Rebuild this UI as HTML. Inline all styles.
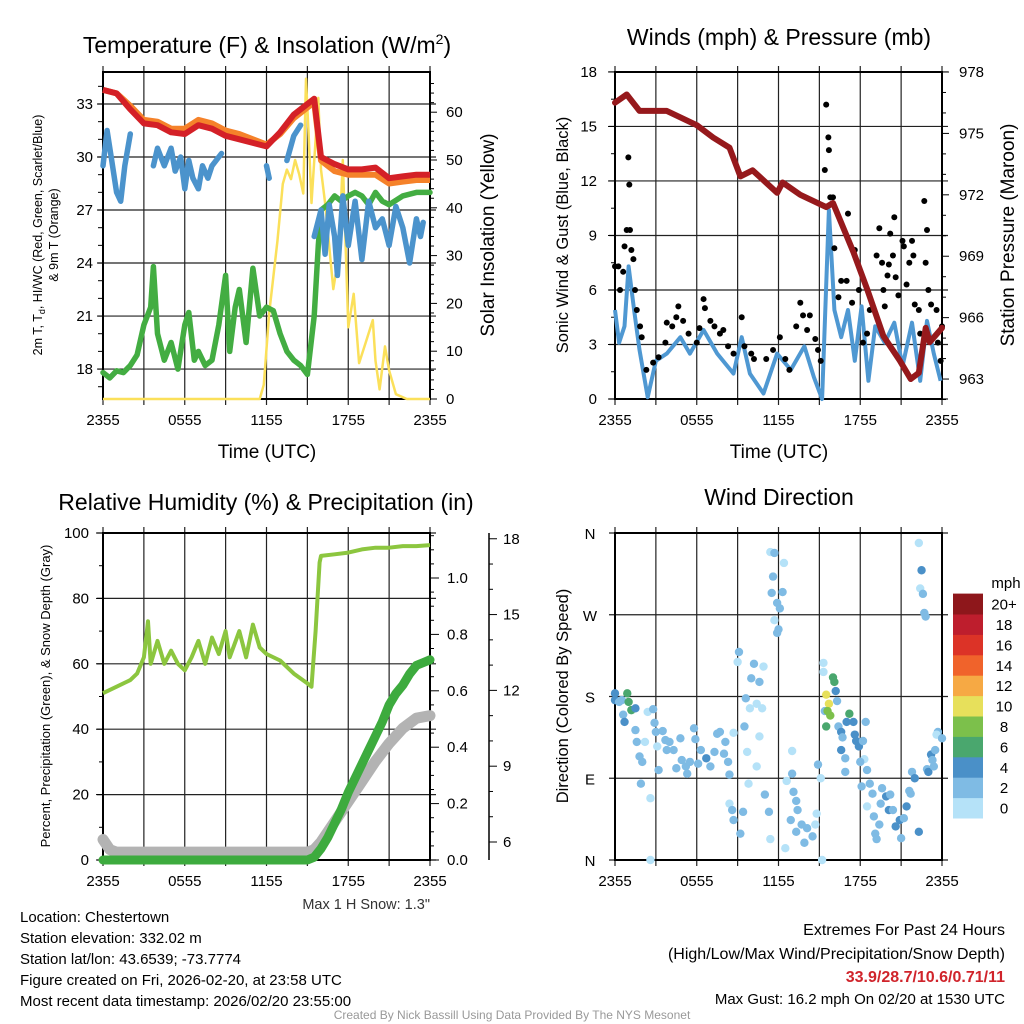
<!DOCTYPE html>
<html><head><meta charset="utf-8">
<style>
html,body{margin:0;padding:0;background:#fff;}
svg{display:block;font-family:"Liberation Sans",sans-serif;}
</style></head>
<body>
<svg id="chart" width="1024" height="1024" viewBox="0 0 1024 1024" xmlns="http://www.w3.org/2000/svg">
<g id="layer"></g>
</svg>
<script>
// ---------- DATA ----------
const tickHours = [0,6,12,18,24];
const tickLabels = ["2355","0555","1155","1755","2355"];

const tempTimes = [0,1,2,3,4,5,6,7,8,9,10,11,12,13,14,15,15.5,16,17,18,19,20,21,22,23,24];
const tempRed = [33.8,33.6,32.7,31.9,31.8,31.4,31.3,31.8,31.6,31.2,31.0,30.8,30.6,31.4,32.4,33.0,33.3,30.0,29.6,29.3,29.3,29.4,28.8,28.9,29.0,29.0];
const temp9mOrange = [33.8,33.6,32.9,32.1,32.0,31.6,31.6,32.1,31.9,31.5,31.3,31.0,30.7,31.3,32.2,32.8,33.1,29.8,29.2,29.0,29.0,29.0,28.5,28.6,28.7,28.7];
const dewTimes = [0,0.5,1,1.5,2,2.5,3,3.5,3.7,4,4.5,5,5.5,6,6.3,6.7,7,7.5,8,8.5,9,9.3,9.7,10,10.5,11,11.5,12,12.5,13,13.5,14,14.5,15,15.5,15.8,16,16.5,17,17.5,18,18.5,19,19.5,20,20.5,21,22,23,24];
const dewGreen = [17.8,17.5,17.9,17.8,18.2,18.8,20.5,21.5,23.8,20.0,18.5,19.5,18.0,20.5,21.2,18.5,19.0,18.2,18.5,20.5,23.3,19.0,21.5,22.5,19.5,23.7,21.0,21.5,21.3,20.0,19.0,18.5,18.2,17.7,21.0,25.0,27.0,27.3,27.8,27.5,27.8,28.0,27.8,27.3,28.0,27.5,27.3,27.8,28.0,28.0];
const wcTimes = [0,0.3,0.6,1,1.3,1.6,2,null,3.7,4,4.5,5,5.3,5.7,6,6.3,6.6,7,7.3,7.7,8,8.7,null,12,12.2,null,13.5,14,14.5,null,15.5,16,16.3,16.6,17,17.2,17.6,18,18.5,19,19.5,20,20.5,21,21.5,22,22.5,23,23.3,23.5];
const wcBlue = [29.5,31.5,30.0,28.0,27.5,29.5,31.3,null,29.5,30.5,29.5,30.5,29.2,30.0,28.2,29.8,28.8,28.2,29.5,28.8,29.5,30.2,null,29.5,28.8,null,29.8,31.2,31.8,null,25.5,27.0,24.5,27.3,25.5,23.3,27.8,25.0,27.5,24.2,27.5,26.0,26.5,25.0,27.2,26.0,24.0,26.5,25.5,26.3];
const solarTimes = [0,11.5,11.8,12.2,12.8,13.2,13.5,13.8,14.1,14.4,14.7,14.9,15.1,15.3,15.8,16.0,16.3,16.9,17.3,17.6,18.0,18.4,18.8,19.3,19.8,20.0,20.3,20.7,21.0,21.5,22.3,24];
const solarYellow = [0,0,3,18,33,45,48,46,50,47,43,67,55,41,63,48,41,23,30,50,15,22,7.5,12,16.5,8,2,11,6,1,0,0];

const presTimes = [0,0.86,1.8,3.8,6.0,7.2,8.4,9.2,10.1,11.9,12.3,13.6,15.5,16.0,17.5,18.5,19.7,20.9,21.7,22.3,22.8,23.1,24];
const pressure = [976.5,976.9,976.1,976.1,975.4,974.8,974.3,972.9,973.2,972.1,972.6,972.0,971.4,971.6,969.2,967.4,965.1,963.9,963.0,963.3,965.5,964.8,965.5];
const windTimes = [0,0.3,0.7,1.0,1.4,1.8,2.4,3.0,3.8,4.8,5.5,6.5,7.5,8.7,9.3,9.9,10.9,11.9,12.9,13.9,14.6,15.2,15.7,16.1,16.6,17.1,17.6,18.1,18.6,19.1,19.8,20.5,21.1,21.8,22.4,22.9,23.4,23.9];
const windSpeed = [4.9,3.1,4.0,7.3,4.9,2.7,0.1,2.1,2.5,3.4,2.5,3.8,2.5,1.4,3.4,1.4,0.3,2.5,1.6,2.9,1.2,0.0,10.4,4.9,3.4,4.9,2.1,5.1,1.0,4.0,3.1,4.2,1.8,4.2,1.0,4.3,2.5,1.0];
const gustTimes = [0.0,0.25,0.37,0.6,0.7,0.86,0.98,1.05,1.1,1.2,1.35,1.47,1.6,1.84,1.96,2.3,2.8,3.2,3.7,3.8,4.2,4.5,4.65,5.0,5.4,6.0,6.2,6.5,6.6,7.0,7.3,7.7,7.95,8.3,8.7,9.3,9.5,10.0,10.2,11.1,11.6,12.1,12.5,12.8,13.3,13.6,13.8,14.1,14.3,14.7,14.9,15.1,15.4,15.5,15.66,15.7,15.8,16.0,16.1,16.4,16.6,17.0,17.1,17.4,17.6,17.9,18.2,18.5,18.7,19.2,19.4,19.6,19.7,19.8,20.0,20.1,20.2,20.4,20.5,20.6,20.8,21.1,21.2,21.4,21.6,21.8,21.9,22.0,22.3,22.4,22.7,22.8,22.9,23.0,23.2,23.6,23.7,23.9,24.0];
const gustSpeed = [7.3,7.3,6.0,7.0,8.4,9.3,13.3,11.8,9.3,8.2,7.7,6.0,4.9,4.0,3.4,1.6,2.0,2.3,3.1,4.2,4.0,4.5,5.1,4.3,3.6,3.1,3.9,5.5,5.0,4.3,4.0,3.6,3.8,2.9,2.5,4.5,2.9,2.5,2.2,2.2,2.7,3.4,2.2,1.6,4.0,5.3,4.6,3.8,4.6,3.3,2.7,2.1,12.6,16.2,14.4,13.7,11.1,11.1,8.3,5.6,6.5,6.5,10.2,5.3,8.2,6.0,3.1,3.6,4.9,7.9,9.4,7.5,6.0,5.1,6.8,7.4,9.1,7.9,10.0,6.7,5.7,8.7,8.4,6.3,7.5,8.7,7.9,5.2,4.9,3.6,10.9,7.5,9.3,6.0,5.2,4.9,3.1,2.1,4.0];

const rhTimes = [0,1,2,2.5,3,3.3,3.5,4,4.5,5,5.5,6,6.5,7,7.5,8,8.5,9,9.3,10,10.5,11,11.5,12,13,14,15,15.3,15.6,15.9,16,17,18,19,20,21,22,23,24];
const rhValues = [51,53,55,57,62,73,60,67,60,64,60,58,62,67,60,68,63,70,62,70,62,72,65,63,61,57,54,53,70,91,93,93.5,94,95,95.5,95.5,96,96,96.3];
const precipTimes = [0,15,15.5,16,16.5,17,17.5,18,18.5,19,19.5,20,20.5,21,21.5,22,22.5,23,23.5,24];
const precipValues = [0,0,0.01,0.04,0.08,0.13,0.18,0.24,0.29,0.34,0.39,0.44,0.49,0.55,0.59,0.62,0.66,0.69,0.70,0.71];
const snowTimes = [0,0.5,1,15,15.5,16,17,18,19,20,21,22,23,24];
const snowValues = [6.1,5.7,5.6,5.6,5.7,6.0,6.8,7.6,8.4,9.2,9.9,10.5,10.9,11.0];

const dirTimes = [0,0,0.3,0.5,0.9,1.0,1.2,1.5,0.6,0.7,1.5,1.6,1.8,2.0,2.2,2.4,2.6,2.6,1.9,2.8,2.9,3.0,3.1,3.2,3.5,3.7,3.8,4.0,4.3,4.5,4.8,4.9,5.2,5.3,5.5,5.8,5.9,6.1,6.3,6.7,7.0,7.3,7.5,7.7,8.0,8.1,8.3,8.4,8.7,8.4,8.6,8.7,9.2,9.4,9.0,9.1,9.5,9.6,9.7,9.8,9.9,10.0,10.2,10.4,10.6,10.8,10.9,10.4,10.6,11.0,11.3,11.4,11.4,11.7,11.6,11.5,11.9,12.1,11.7,11.9,12.0,12.3,12.4,12.5,12.6,13.0,13.0,13.1,13.3,12.9,13.4,13.3,13.7,14.1,13.9,14.5,14.7,14.8,14.9,15.1,15.2,15.3,15.3,15.4,15.5,15.7,15.6,15.8,15.5,16.0,16.1,16.2,16.3,17.2,17.0,17.5,16.4,16.6,16.7,16.6,16.9,16.9,17.6,17.7,17.9,18.2,18.4,18.3,18.0,18.5,18.7,18.1,18.9,18.5,19.0,19.4,19.1,19.2,19.6,19.5,19.9,20.2,20.1,20.4,20.6,21.0,20.9,21.2,21.6,21.7,21.4,21.8,22.0,22.3,22.3,22.5,22.4,22.6,22.7,22.8,22.9,23.0,23.2,23.3,23.4,23.5,23.7,23.6,24.0];
const dirValues = [183.5,176,174,176,183.5,174,165,167,160,152,143,130,114,108,130,163,0,68,84,166,151,141,125,99,142,132,121,130,121,101,134,110,103,95,108,145,133,106,121,112,103,119,139,141,117,130,108,94,140,62,55,44,29,53,218,229,147,178,119,84,167,200,216,172,196,167,213,103,136,72,53,23,339,338,312,294,283,277,264,250,254,295,327,13,87,120,95,75,65,44,55,31,39,35,19,26,39,51,105,90,0,217,207,164,182,172,164,159,147,201,196,186,175,161,152,152,147,141,135,121,112,97,138,131,125,131,152,111,108,99,84,81,73,59,48,39,29,23,79,62,70,72,55,55,37,24,44,46,76,73,59,97,90,31,349,319,299,293,272,268,100,97,116,110,103,121,141,138,134];
const dirSpeed = [4,4,3,3,6,6,6,4,3,4,3,3,3,3,1,1,1,1,3,3,3,3,1,3,3,3,2,3,3,3,3,3,3,3,2,3,3,3,3,4,3,3,3,3,3,3,3,3,1,1,3,3,3,3,1,3,3,2,1,1,1,3,3,1,3,1,1,1,1,3,3,1,1,3,3,3,3,3,1,3,3,3,1,1,1,1,3,3,3,3,3,3,3,3,3,3,1,1,3,1,1,1,1,3,10,10,9,9,6,6,6,4,3,6,4,4,3,4,3,4,3,3,4,4,4,3,3,1,3,3,3,3,3,1,3,3,3,3,3,3,4,3,4,3,4,3,4,3,3,3,4,3,4,4,1,4,1,3,3,3,3,4,4,3,3,3,3,1,3,3];

const legendLabels = ["0","2","4","6","8","10","12","14","16","18","20+"];
const legendColors = ["#b5e2f8","#7fbbe4","#4a90c8","#4aa76e","#7cc04b","#e7e05b","#f6a944","#f0632b","#dc3327","#be1e2d","#8e171b"];

// ---------- HELPERS ----------
const NS = "http://www.w3.org/2000/svg";
const root = document.getElementById("layer");
function mk(tag, attrs, parent){
  const el = document.createElementNS(NS, tag);
  for (const k in attrs) el.setAttribute(k, attrs[k]);
  (parent||root).appendChild(el);
  return el;
}
function txt(s, x, y, size, anchor, extra){
  const t = mk("text", Object.assign({x:x, y:y, "font-size":size, "text-anchor":anchor||"middle", fill:"#000"}, extra||{}));
  t.textContent = s;
  return t;
}
function vtxt(s, x, y, size){
  const t = mk("text", {x:0, y:0, "font-size":size, "text-anchor":"middle", transform:"translate("+x+","+y+") rotate(-90)", fill:"#000"});
  t.textContent = s;
  return t;
}
function linePath(times, vals, sx, sy){
  let d = "", pen = false;
  for (let i=0;i<times.length;i++){
    if (times[i]===null || vals[i]===null){ pen=false; continue; }
    d += (pen?"L":"M") + sx(times[i]).toFixed(1) + "," + sy(vals[i]).toFixed(1);
    pen = true;
  }
  return d;
}
function speedColor(s){ let b = Math.min(10, Math.floor(s/2)); return legendColors[b]; }

const P = [{x0:103,y0:72},{x0:615,y0:72},{x0:103,y0:533},{x0:615,y0:533}];
const W = 327, H = 327;

function frame(p, yLines, name){
  const g = mk("g", {});
  
  
  for (let h=0; h<=24; h+=3){
    const x = p.x0 + h/24*W;
    mk("line",{x1:x,y1:p.y0-6,x2:x,y2:p.y0+H+6,stroke:"#222","stroke-width":1.2},g);
  }
  yLines.forEach(y=>mk("line",{x1:p.x0-6,y1:y,x2:p.x0+W+6,y2:y,stroke:"#222","stroke-width":1.2},g));
  mk("rect",{x:p.x0,y:p.y0,width:W,height:H,fill:"none",stroke:"#000","stroke-width":2},g);
  tickHours.forEach((h,i)=>{
    const t = txt(tickLabels[i], p.x0 + h/24*W, p.y0+H+26, 15);
    
    
  });
  return g;
}

// ---------- PANEL 1 ----------
{
  const p = P[0];
  const sx = h => p.x0 + h/24*W;
  const sy = v => 104 + (33 - v)*17.67;
  const ss = v => 399 - v*4.78;
  const ylines = [18,21,24,27,30,33].map(sy);
  frame(p, ylines, "temperature-plot-frame");
  for (let v=17; v<=34; v++){ mk("line",{x1:p.x0-5,y1:sy(v),x2:p.x0,y2:sy(v),stroke:"#000"}); }
  [18,21,24,27,30,33].forEach(v=>{ const t=txt(String(v), p.x0-10, sy(v)+5, 15, "end");   });
  for (let v=0; v<=66; v+=2){ mk("line",{x1:p.x0+W,y1:ss(v),x2:p.x0+W+(v%10===0?7:4),y2:ss(v),stroke:"#000"}); }
  [0,10,20,30,40,50,60].forEach(v=>{ const t=txt(String(v), p.x0+W+16, ss(v)+5, 15, "start");   });
  let e;
  e = mk("path",{d:linePath(solarTimes,solarYellow,sx,ss),fill:"none",stroke:"#fbe05a","stroke-width":2.5,"stroke-linejoin":"round"});
   
  e = mk("path",{d:linePath(dewTimes,dewGreen,sx,sy),fill:"none",stroke:"#43ad42","stroke-width":5.5,"stroke-linejoin":"round","stroke-linecap":"round"});
   
  e = mk("path",{d:linePath(wcTimes,wcBlue,sx,sy),fill:"none",stroke:"#4b93cc","stroke-width":5.5,"stroke-linejoin":"round","stroke-linecap":"round"});
   
  e = mk("path",{d:linePath(tempTimes,temp9mOrange,sx,sy),fill:"none",stroke:"#f5822a","stroke-width":6,"stroke-linejoin":"round"});
   
  e = mk("path",{d:linePath(tempTimes,tempRed,sx,sy),fill:"none",stroke:"#d42027","stroke-width":6,"stroke-linejoin":"round"});
   
  const title = mk("text",{x:267,y:53,"font-size":23,"text-anchor":"middle"});
  title.innerHTML = 'Temperature (F) &amp; Insolation (W/m<tspan dy="-9" font-size="14">2</tspan><tspan dy="9">)</tspan>';
   
  e = txt("Time (UTC)", 267, 458, 19);  
  const yt = mk("text",{x:0,y:0,"font-size":12.5,"text-anchor":"middle",transform:"translate(42,235) rotate(-90)"});
  yt.innerHTML = '2m T, T<tspan dy="3" font-size="9">d</tspan><tspan dy="-3">, HI/WC (Red, Green, Scarlet/Blue)</tspan>';
   
  e = vtxt("& 9m T (Orange)", 58, 235, 12.5);  
  e = vtxt("Solar Insolation (Yellow)", 494, 235, 19);  
}

// ---------- PANEL 2 ----------
{
  const p = P[1];
  const sx = h => p.x0 + h/24*W;
  const sw = v => 399 - v*18.17;
  const sp = v => 72 + (978 - v)*20.47;
  frame(p, [0,3,6,9,12,15,18].map(sw), "wind-plot-frame");
  for (let v=0; v<=18; v+=1.5){ mk("line",{x1:p.x0-(v%3===0?7:4),y1:sw(v),x2:p.x0,y2:sw(v),stroke:"#000"}); }
  [0,3,6,9,12,15,18].forEach(v=>{ const t=txt(String(v), p.x0-18, sw(v)+5, 15, "end");   });
  for (let v=962; v<=978; v++){ mk("line",{x1:p.x0+W,y1:sp(v),x2:p.x0+W+((v%3===0)?7:4),y2:sp(v),stroke:"#000"}); }
  [963,966,969,972,975,978].forEach(v=>{ const t=txt(String(v), p.x0+W+17, sp(v)+5, 15, "start");   });
  let e = mk("path",{d:linePath(windTimes,windSpeed,sx,sw),fill:"none",stroke:"#4f98d2","stroke-width":4,"stroke-linejoin":"round"});
   
  gustTimes.forEach((h,i)=>{
    const c = mk("circle",{cx:sx(h),cy:sw(gustSpeed[i]),r:3,fill:"#000"});
    
    
  });
  e = mk("path",{d:linePath(presTimes,pressure,sx,sp),fill:"none",stroke:"#96191c","stroke-width":6,"stroke-linejoin":"round","stroke-linecap":"round"});
   
  e = txt("Winds (mph) & Pressure (mb)", 779, 45, 23);  
  e = txt("Time (UTC)", 779, 458, 19);  
  e = vtxt("Sonic Wind & Gust (Blue, Black)", 568, 235, 16.5);  
  e = vtxt("Station Pressure (Maroon)", 1014, 235, 19);  
}

// ---------- PANEL 3 ----------
{
  const p = P[2];
  const sx = h => p.x0 + h/24*W;
  const sr = v => 860 - v*3.27;
  const spr = v => 860 - v*282;
  const ssn = v => 842 - (v-6)*25.27;
  frame(p, [0,20,40,60,80,100].map(sr), "humidity-plot-frame");
  for (let v=0; v<=100; v+=10){ mk("line",{x1:p.x0-(v%20===0?7:4),y1:sr(v),x2:p.x0,y2:sr(v),stroke:"#000"}); }
  [0,20,40,60,80,100].forEach(v=>{ const t=txt(String(v), p.x0-14, sr(v)+5, 15, "end");   });
  for (let v=0; v<=1.16; v+=0.05){ mk("line",{x1:p.x0+W,y1:spr(v),x2:p.x0+W+(Math.round(v*100)%20===0?9:4),y2:spr(v),stroke:"#000"}); }
  ["0.0","0.2","0.4","0.6","0.8","1.0"].forEach(s=>{ const t=txt(s, p.x0+W+17, spr(parseFloat(s))+5, 15, "start");   });
  mk("line",{x1:489,y1:533,x2:489,y2:860,stroke:"#000","stroke-width":1.5});
  for (let v=6; v<=18; v+=1){ mk("line",{x1:489,y1:ssn(v),x2:489+(v%3===0?8:4),y2:ssn(v),stroke:"#000"}); }
  [6,9,12,15,18].forEach(v=>{ const t=txt(String(v), 503, ssn(v)+5, 15, "start");   });
  let e = mk("path",{d:linePath(snowTimes,snowValues,sx,ssn),fill:"none",stroke:"#b3b3b3","stroke-width":11,"stroke-linejoin":"round","stroke-linecap":"round"});
   
  e = mk("path",{d:linePath(precipTimes,precipValues,sx,spr),fill:"none",stroke:"#3dab3e","stroke-width":9,"stroke-linejoin":"round","stroke-linecap":"round"});
   
  e = mk("path",{d:linePath(rhTimes,rhValues,sx,sr),fill:"none",stroke:"#8cc63f","stroke-width":4,"stroke-linejoin":"round"});
   
  e = txt("Relative Humidity (%) & Precipitation (in)", 266, 510, 23);  
  e = vtxt("Percent, Precipitation (Green), & Snow Depth (Gray)", 50, 696, 13);  
  e = txt('Max 1 H Snow: 1.3"', 430, 909, 14.5, "end", {fill:"#333"});  
}

// ---------- PANEL 4 ----------
{
  const p = P[3];
  const sx = h => p.x0 + h/24*W;
  const sd = v => 860 - v/360*327;
  frame(p, [0,90,180,270,360].map(sd), "direction-plot-frame");
  [["N",0],["E",90],["S",180],["W",270],["N",360]].forEach(a=>{ const t=txt(a[0], 590, sd(a[1])+6, 15);   });
  dirTimes.forEach((h,i)=>{
    const c = mk("circle",{cx:sx(h),cy:sd(dirValues[i]),r:4.2,fill:speedColor(dirSpeed[i])});
    
    
  });
  legendColors.forEach((col,i)=>{
    const y = 818 - (i+1)*20.4;
    const r = mk("rect",{x:953,y:y,width:30,height:20.9,fill:col});
    
    
    const t = txt(legendLabels[i], 1004, y+16, 15);
    
    
  });
  let e = txt("mph", 1006, 588, 15);  
  e = txt("Wind Direction", 779, 505, 23);  
  e = vtxt("Direction (Colored By Speed)", 568, 696, 16.5);  
}

// ---------- FOOTER TEXT ----------
{
  const left = ["Location: Chestertown","Station elevation: 332.02 m","Station lat/lon: 43.6539; -73.7774","Figure created on Fri, 2026-02-20, at 23:58 UTC","Most recent data timestamp: 2026/02/20 23:55:00"];
  left.forEach((s,i)=>{ const t=txt(s, 20, 922+i*21, 15, "start");   });
  let e = txt("Extremes For Past 24 Hours", 1005, 935, 16, "end");  
  e = txt("(High/Low/Max Wind/Precipitation/Snow Depth)", 1005, 959, 16, "end");  
  e = txt("33.9/28.7/10.6/0.71/11", 1005, 982, 16, "end", {fill:"#d0242b","font-weight":"bold"});  
  e = txt("Max Gust: 16.2 mph On 02/20 at 1530 UTC", 1005, 1004, 15, "end");  
  e = txt("Created By Nick Bassill Using Data Provided By The NYS Mesonet", 512, 1019, 12, "middle", {fill:"#999"});  
}
</script>
</body></html>
